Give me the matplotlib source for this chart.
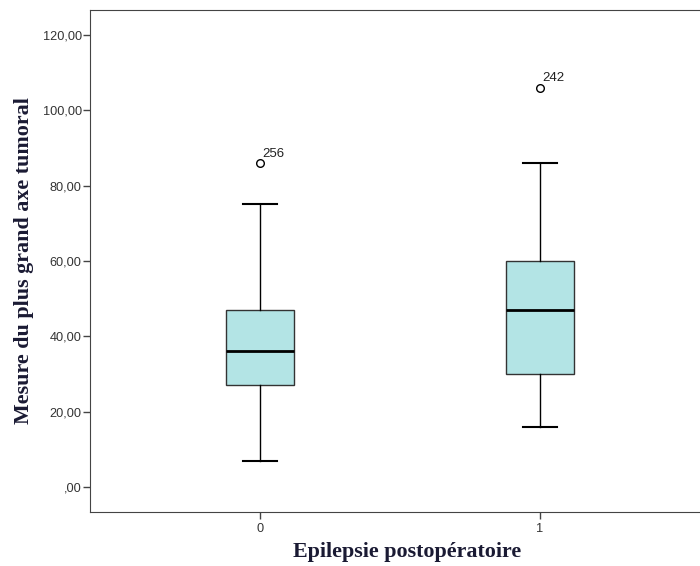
import matplotlib.pyplot as plt

groups = ["0", "1"]
whislo = [7, 16]
q1 = [27, 30]
med = [36, 47]
q3 = [47, 60]
whishi = [75, 86]
outliers = [[86], [106]]
outlier_ids = ["256", "242"]
yticks = [0, 20, 40, 60, 80, 100, 120]
ytick_labels = [",00", "20,00", "40,00", "60,00", "80,00", "100,00", "120,00"]

fig = plt.figure(figsize=(7, 5.66), dpi=100)
ax = fig.add_axes([90 / 700, 54 / 566, 634 / 700, 502 / 566])

stats = []
for i in range(len(groups)):
    stats.append(dict(whislo=whislo[i], q1=q1[i], med=med[i], q3=q3[i],
                      whishi=whishi[i], fliers=outliers[i], label=groups[i]))

ax.bxp(stats, positions=[0, 1], widths=0.246, patch_artist=True,
       boxprops=dict(facecolor="#b3e4e5", edgecolor="#333333", linewidth=1),
       medianprops=dict(color="black", linewidth=2),
       whiskerprops=dict(color="black", linewidth=1),
       capprops=dict(color="black", linewidth=1.5),
       capwidths=0.123,
       flierprops=dict(marker="o", markerfacecolor="white", markeredgecolor="black",
                       markersize=5.5, markeredgewidth=1))

for i in range(len(groups)):
    for v in outliers[i]:
        ax.annotate(outlier_ids[i], (i, v), xytext=(1.5, 4.5), textcoords="offset points",
                    fontsize=9.5, color="#222222", family="Liberation Sans")

ax.set_xlim(-0.607, 1.657)
ax.set_ylim(-6.6, 126.6)
ax.set_yticks(yticks)
ax.set_yticklabels(ytick_labels)
ax.set_xticks([0, 1])
ax.set_xticklabels(groups)
for lab in ax.get_xticklabels() + ax.get_yticklabels():
    lab.set_family("Liberation Sans")
    lab.set_fontsize(9.2)
    lab.set_color("#333333")
ax.tick_params(length=5, width=1, color="#444444", pad=1)
ax.tick_params(axis="x", pad=3)
for s in ax.spines.values():
    s.set_color("#444444")

ax.set_ylabel("Mesure du plus grand axe tumoral", family="Liberation Serif",
              fontsize=15.8, fontweight="bold", color="#1a1a33", labelpad=6)
ax.set_xlabel("Epilepsie postopératoire", family="Liberation Serif",
              fontsize=15.8, fontweight="bold", color="#1a1a33", labelpad=5)

fig.savefig("out.png", dpi=100)
